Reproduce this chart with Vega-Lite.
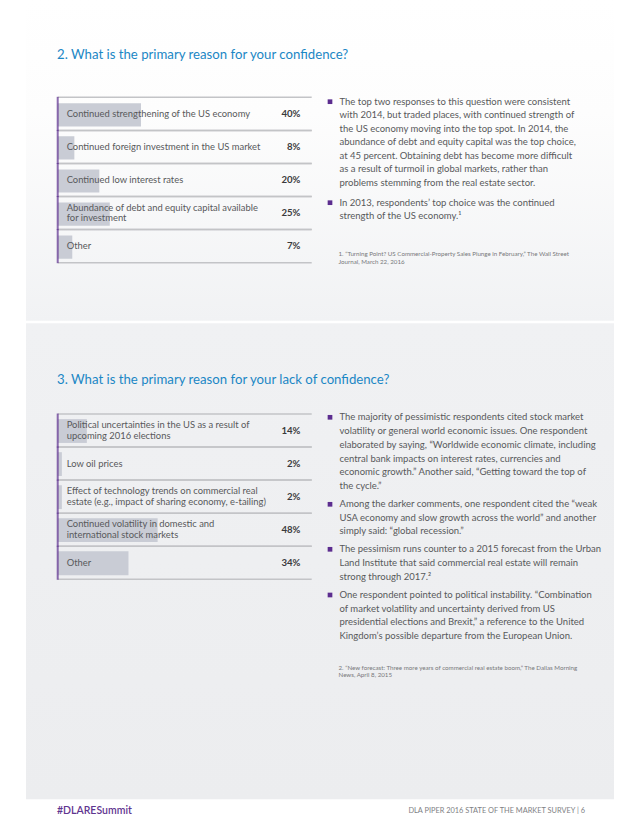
{
  "$schema": "https://vega.github.io/schema/vega-lite/v6.json",
  "width": 640,
  "height": 828,
  "autosize": {"type": "fit", "contains": "padding"},
  "padding": 0,
  "background": "#ffffff",
  "config": {"view": {"stroke": null}, "font": "Lato", "text": {"font": "Lato"}},
  "resolve": {"scale": {"x": "independent", "y": "independent", "color": "independent", "size": "independent"}},
  "layer": [
    {
      "data": {"values": [{"panel": "confidence"}]},
      "mark": {"type": "rect", "stroke": null, "fill": {"gradient": "linear", "x1": 0, "y1": 0, "x2": 0, "y2": 1, "stops": [{"offset": 0, "color": "#ffffff"}, {"offset": 0.35, "color": "#fdfdfd"}, {"offset": 1, "color": "#f1f2f4"}]}},
      "encoding": {
        "x": {"field": "panel", "type": "nominal", "axis": null, "scale": {"type": "band", "range": [26, 614], "paddingInner": 0, "paddingOuter": 0}},
        "y": {"field": "panel", "type": "nominal", "axis": null, "scale": {"type": "band", "range": [0, 320.7], "paddingInner": 0, "paddingOuter": 0}}
      }
    },
    {
      "data": {"values": [{"panel": "lack of confidence"}]},
      "mark": {"type": "rect", "stroke": null, "fill": {"gradient": "linear", "x1": 0, "y1": 0, "x2": 0, "y2": 1, "stops": [{"offset": 0, "color": "#f0f1f3"}, {"offset": 1, "color": "#ecedef"}]}},
      "encoding": {
        "x": {"field": "panel", "type": "nominal", "axis": null, "scale": {"type": "band", "range": [26, 614], "paddingInner": 0, "paddingOuter": 0}},
        "y": {"field": "panel", "type": "nominal", "axis": null, "scale": {"type": "band", "range": [323.3, 799.3], "paddingInner": 0, "paddingOuter": 0}}
      }
    },
    {
      "data": {"values": [
        {"section": "confidence", "title": "2. What is the primary reason for your confidence?"},
        {"section": "lack of confidence", "title": "3. What is the primary reason for your lack of confidence?"}
      ]},
      "mark": {"type": "text", "align": "left", "baseline": "middle", "fontSize": 13.2, "color": "#1b87c5"},
      "encoding": {
        "x": {"field": "section", "type": "nominal", "axis": null, "scale": {"type": "point", "range": [57, 57], "padding": 0}},
        "y": {"field": "section", "type": "nominal", "axis": null, "sort": null, "scale": {"type": "point", "range": [55, 380], "padding": 0}},
        "text": {"field": "title"}
      }
    },
    {
      "data": {"values": [
        {"reason": "Continued strengthening of the US economy", "share": 0.40},
        {"reason": "Continued foreign investment in the US market", "share": 0.08},
        {"reason": "Continued low interest rates", "share": 0.20},
        {"reason": "Abundance of debt and equity capital available\nfor investment", "share": 0.25},
        {"reason": "Other", "share": 0.07}
      ]},
      "encoding": {
        "y": {"field": "reason", "type": "nominal", "sort": null, "axis": null, "scale": {"type": "band", "range": [97.3, 262.7], "paddingInner": 0, "paddingOuter": 0}}
      },
      "layer": [
        {
          "mark": {"type": "rule", "color": "#c3c4c7", "strokeWidth": 1.5},
          "encoding": {
            "y": {"field": "reason", "type": "nominal", "sort": null, "bandPosition": 0},
            "x": {"datum": 0, "type": "quantitative", "axis": null, "scale": {"domain": [0, 1.22], "range": [57.7, 311.7], "nice": false, "zero": false}},
            "x2": {"datum": 1.22}
          }
        },
        {
          "mark": {"type": "rule", "color": "#c3c4c7", "strokeWidth": 1.5},
          "encoding": {
            "y": {"field": "reason", "type": "nominal", "sort": null, "bandPosition": 1},
            "x": {"datum": 0, "type": "quantitative"},
            "x2": {"datum": 1.22}
          }
        },
        {
          "mark": {"type": "bar", "color": "#c9ccd5", "height": {"band": 0.7}, "yOffset": 1},
          "encoding": {"x": {"field": "share", "type": "quantitative"}}
        },
        {
          "mark": {"type": "tick", "color": "#5c2d8f", "thickness": 2, "size": 34},
          "encoding": {"x": {"datum": 0, "type": "quantitative"}}
        },
        {
          "transform": [{"filter": "indexof(datum.reason, '\\n') < 0"}],
          "mark": {"type": "text", "align": "left", "baseline": "middle", "dx": 9, "fontSize": 9.4, "color": "#58595b"},
          "encoding": {"x": {"datum": 0, "type": "quantitative"}, "text": {"field": "reason"}}
        },
        {
          "transform": [{"filter": "indexof(datum.reason, '\\n') >= 0"}],
          "mark": {"type": "text", "align": "left", "baseline": "middle", "dx": 9, "dy": -5.3, "fontSize": 9.4, "lineHeight": 10.7, "lineBreak": "\n", "color": "#58595b"},
          "encoding": {"x": {"datum": 0, "type": "quantitative"}, "text": {"field": "reason"}}
        },
        {
          "mark": {"type": "text", "align": "right", "baseline": "middle", "fontSize": 9.6, "fontWeight": "bold", "color": "#3a3a3c"},
          "encoding": {"x": {"datum": 1.166, "type": "quantitative"}, "text": {"field": "share", "type": "quantitative", "format": ".0%"}}
        }
      ]
    },
    {
      "data": {"values": [
        {"reason": "Political uncertainties in the US as a result of\nupcoming 2016 elections", "share": 0.14},
        {"reason": "Low oil prices", "share": 0.02},
        {"reason": "Effect of technology trends on commercial real\nestate (e.g., impact of sharing economy, e-tailing)", "share": 0.02},
        {"reason": "Continued volatility in domestic and\ninternational stock markets", "share": 0.48},
        {"reason": "Other", "share": 0.34}
      ]},
      "encoding": {
        "y": {"field": "reason", "type": "nominal", "sort": null, "axis": null, "scale": {"type": "band", "range": [414, 579.3], "paddingInner": 0, "paddingOuter": 0}}
      },
      "layer": [
        {
          "mark": {"type": "rule", "color": "#c3c4c7", "strokeWidth": 1.5},
          "encoding": {
            "y": {"field": "reason", "type": "nominal", "sort": null, "bandPosition": 0},
            "x": {"datum": 0, "type": "quantitative", "axis": null, "scale": {"domain": [0, 1.22], "range": [57.7, 311.7], "nice": false, "zero": false}},
            "x2": {"datum": 1.22}
          }
        },
        {
          "mark": {"type": "rule", "color": "#c3c4c7", "strokeWidth": 1.5},
          "encoding": {
            "y": {"field": "reason", "type": "nominal", "sort": null, "bandPosition": 1},
            "x": {"datum": 0, "type": "quantitative"},
            "x2": {"datum": 1.22}
          }
        },
        {
          "mark": {"type": "bar", "color": "#c9ccd5", "height": {"band": 0.72}, "yOffset": 0.5},
          "encoding": {"x": {"field": "share", "type": "quantitative"}}
        },
        {
          "mark": {"type": "tick", "color": "#5c2d8f", "thickness": 2, "size": 34},
          "encoding": {"x": {"datum": 0, "type": "quantitative"}}
        },
        {
          "transform": [{"filter": "indexof(datum.reason, '\\n') < 0"}],
          "mark": {"type": "text", "align": "left", "baseline": "middle", "dx": 9, "fontSize": 9.4, "color": "#58595b"},
          "encoding": {"x": {"datum": 0, "type": "quantitative"}, "text": {"field": "reason"}}
        },
        {
          "transform": [{"filter": "indexof(datum.reason, '\\n') >= 0"}],
          "mark": {"type": "text", "align": "left", "baseline": "middle", "dx": 9, "dy": -5.3, "fontSize": 9.4, "lineHeight": 10.7, "lineBreak": "\n", "color": "#58595b"},
          "encoding": {"x": {"datum": 0, "type": "quantitative"}, "text": {"field": "reason"}}
        },
        {
          "mark": {"type": "text", "align": "right", "baseline": "middle", "fontSize": 9.6, "fontWeight": "bold", "color": "#3a3a3c"},
          "encoding": {"x": {"datum": 1.166, "type": "quantitative"}, "text": {"field": "share", "type": "quantitative", "format": ".0%"}}
        }
      ]
    },
    {
      "encoding": {
        "x": {"field": "kind", "type": "nominal", "axis": null, "scale": {"type": "point", "domain": ["bullet", "text"], "range": [330, 339.5], "padding": 0}},
        "y": {"field": "line", "type": "quantitative", "axis": null, "scale": {"zero": false, "nice": false, "domain": [1, 7, 8, 9, 10, 15, 16, 18, 19, 21, 22, 25], "range": [101.7, 182.7, 202.7, 216.3, 417.3, 486, 504.3, 531.3, 549.3, 577, 595, 636]}}
      },
      "layer": [
        {
          "data": {"values": [
            {"kind": "bullet", "line": 1}, {"kind": "bullet", "line": 8},
            {"kind": "bullet", "line": 10}, {"kind": "bullet", "line": 16},
            {"kind": "bullet", "line": 19}, {"kind": "bullet", "line": 22}
          ]},
          "mark": {"type": "square", "size": 22, "color": "#5c2d8f", "opacity": 1}
        },
        {
          "data": {"values": [
            {"kind": "text", "line": 1, "text": "The top two responses to this question were consistent"},
            {"kind": "text", "line": 2, "text": "with 2014, but traded places, with continued strength of"},
            {"kind": "text", "line": 3, "text": "the US economy moving into the top spot. In 2014, the"},
            {"kind": "text", "line": 4, "text": "abundance of debt and equity capital was the top choice,"},
            {"kind": "text", "line": 5, "text": "at 45 percent. Obtaining debt has become more difficult"},
            {"kind": "text", "line": 6, "text": "as a result of turmoil in global markets, rather than"},
            {"kind": "text", "line": 7, "text": "problems stemming from the real estate sector."},
            {"kind": "text", "line": 8, "text": "In 2013, respondents’ top choice was the continued"},
            {"kind": "text", "line": 9, "text": "strength of the US economy.¹"},
            {"kind": "text", "line": 10, "text": "The majority of pessimistic respondents cited stock market"},
            {"kind": "text", "line": 11, "text": "volatility or general world economic issues. One respondent"},
            {"kind": "text", "line": 12, "text": "elaborated by saying, “Worldwide economic climate, including"},
            {"kind": "text", "line": 13, "text": "central bank impacts on interest rates, currencies and"},
            {"kind": "text", "line": 14, "text": "economic growth.” Another said, “Getting toward the top of"},
            {"kind": "text", "line": 15, "text": "the cycle.”"},
            {"kind": "text", "line": 16, "text": "Among the darker comments, one respondent cited the “weak"},
            {"kind": "text", "line": 17, "text": "USA economy and slow growth across the world” and another"},
            {"kind": "text", "line": 18, "text": "simply said: “global recession.”"},
            {"kind": "text", "line": 19, "text": "The pessimism runs counter to a 2015 forecast from the Urban"},
            {"kind": "text", "line": 20, "text": "Land Institute that said commercial real estate will remain"},
            {"kind": "text", "line": 21, "text": "strong through 2017.²"},
            {"kind": "text", "line": 22, "text": "One respondent pointed to political instability. “Combination"},
            {"kind": "text", "line": 23, "text": "of market volatility and uncertainty derived from US"},
            {"kind": "text", "line": 24, "text": "presidential elections and Brexit,” a reference to the United"},
            {"kind": "text", "line": 25, "text": "Kingdom’s possible departure from the European Union."}
          ]},
          "mark": {"type": "text", "align": "left", "baseline": "middle", "fontSize": 9.5, "color": "#58595b"},
          "encoding": {"text": {"field": "text"}}
        }
      ]
    },
    {
      "data": {"values": [
        {"kind": "note", "line": 1, "text": "1. “Turning Point? US Commercial-Property Sales Plunge in February,” The Wall Street"},
        {"kind": "note", "line": 2, "text": "Journal, March 22, 2016"},
        {"kind": "note", "line": 3, "text": "2. “New forecast: Three more years of commercial real estate boom,” The Dallas Morning"},
        {"kind": "note", "line": 4, "text": "News, April 8, 2015"}
      ]},
      "mark": {"type": "text", "align": "left", "baseline": "middle", "fontSize": 6.2, "color": "#77787b"},
      "encoding": {
        "x": {"field": "kind", "type": "nominal", "axis": null, "scale": {"type": "point", "range": [338.5, 338.5], "padding": 0}},
        "y": {"field": "line", "type": "quantitative", "axis": null, "scale": {"zero": false, "nice": false, "domain": [1, 2, 3, 4], "range": [254.3, 261.7, 667.7, 675]}},
        "text": {"field": "text"}
      }
    },
    {
      "data": {"values": [{"part": "hashtag", "text": "#DLARESummit"}]},
      "mark": {"type": "text", "align": "left", "baseline": "middle", "fontSize": 10.5, "fontWeight": 600, "color": "#5f3590"},
      "encoding": {
        "x": {"field": "part", "type": "nominal", "axis": null, "scale": {"type": "point", "range": [57, 57], "padding": 0}},
        "y": {"field": "part", "type": "nominal", "axis": null, "scale": {"type": "point", "range": [811, 811], "padding": 0}},
        "text": {"field": "text"}
      }
    },
    {
      "data": {"values": [{"part": "folio", "text": "DLA PIPER 2016 STATE OF THE MARKET SURVEY  |  6"}]},
      "mark": {"type": "text", "align": "right", "baseline": "middle", "fontSize": 7.4, "color": "#808184"},
      "encoding": {
        "x": {"field": "part", "type": "nominal", "axis": null, "scale": {"type": "point", "range": [585, 585], "padding": 0}},
        "y": {"field": "part", "type": "nominal", "axis": null, "scale": {"type": "point", "range": [811, 811], "padding": 0}},
        "text": {"field": "text"}
      }
    }
  ]
}
